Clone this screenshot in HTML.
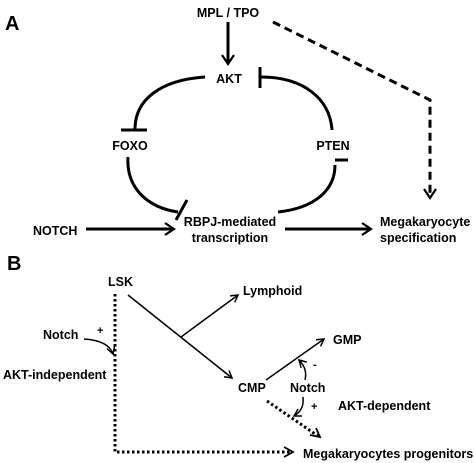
<!DOCTYPE html>
<html><head><style>html,body{margin:0;padding:0;background:#fff}svg{display:block}text{font-family:"Liberation Sans",Arial,sans-serif;font-weight:bold;fill:#000}</style></head>
<body>
<svg width="474" height="463" viewBox="0 0 474 463" xmlns="http://www.w3.org/2000/svg">
<defs>
<marker id="a" markerWidth="14" markerHeight="14" refX="10" refY="7" orient="auto" markerUnits="userSpaceOnUse"><path d="M1,1 L10,7 L1,13" fill="none" stroke="#000" stroke-width="2.2"/></marker>
<marker id="s" markerWidth="10" markerHeight="10" refX="8" refY="5" orient="auto" markerUnits="userSpaceOnUse"><path d="M1,1 L8,5 L1,9" fill="none" stroke="#000" stroke-width="1.5"/></marker>
</defs>
<g font-size="12.5">
<text x="5" y="30" font-size="20">A</text>
<text x="228" y="17" text-anchor="middle">MPL / TPO</text>
<text x="229" y="83" text-anchor="middle">AKT</text>
<text x="130" y="150" text-anchor="middle">FOXO</text>
<text x="333" y="150" text-anchor="middle">PTEN</text>
<text x="33" y="235">NOTCH</text>
<text x="230" y="226" text-anchor="middle">RBPJ-mediated</text>
<text x="230" y="242" text-anchor="middle">transcription</text>
<text x="380" y="226">Megakaryocyte</text>
<text x="380" y="242">specification</text>
</g>
<g fill="none" stroke="#000" stroke-width="3">
<line x1="228" y1="22" x2="228" y2="64" marker-end="url(#a)"/>
<path d="M205,77 C160,80 135,100 135,129"/>
<line x1="121" y1="130" x2="147" y2="130"/>
<path d="M128,157 C126,190 150,208 178,212"/>
<line x1="187" y1="200" x2="176" y2="220"/>
<path d="M278,212 C315,208 335,190 335,165"/>
<line x1="335" y1="160" x2="348" y2="160"/>
<path d="M332,130 C330,100 305,77 261,77"/>
<line x1="260" y1="67" x2="260" y2="88"/>
<line x1="86" y1="229" x2="174" y2="229" marker-end="url(#a)"/>
<line x1="285" y1="229" x2="371" y2="229" marker-end="url(#a)"/>
<path d="M273,22 L430,100 L430,198" stroke-dasharray="8,5" marker-end="url(#a)"/>
</g>
<g font-size="12.5">
<text x="7" y="270" font-size="20">B</text>
<text x="108" y="286">LSK</text>
<text x="243" y="295">Lymphoid</text>
<text x="333" y="344">GMP</text>
<text x="238" y="392">CMP</text>
<text x="290" y="392">Notch</text>
<text x="338" y="410">AKT-dependent</text>
<text x="303" y="458">Megakaryocytes progenitors</text>
<text x="43" y="339">Notch</text>
<text x="3" y="379">AKT-independent</text>
<text x="97" y="334" font-size="11">+</text>
<text x="311" y="410" font-size="11">+</text>
<text x="313" y="368" font-size="11">-</text>
</g>
<g fill="none" stroke="#000" stroke-width="1.5">
<line x1="128" y1="295" x2="232" y2="378" marker-end="url(#s)"/>
<line x1="181" y1="337" x2="238" y2="295" marker-end="url(#s)"/>
<line x1="266" y1="380" x2="324" y2="339" marker-end="url(#s)"/>
<path d="M84,339 C100,340 110,345 113,354" marker-end="url(#s)"/>
<path d="M305,380 C307,372 304,365 299,360" marker-end="url(#s)"/>
<path d="M303,397 C304,406 301,412 294,416" marker-end="url(#s)"/>
</g>
<g fill="none" stroke="#000" stroke-width="3" stroke-dasharray="2.5,2.5">
<path d="M115,294 L115,452 L290,452"/>
<line x1="267" y1="401" x2="318" y2="436"/>
</g>
<path d="M284,447 L293,452 L284,457" fill="none" stroke="#000" stroke-width="1.8"/>
<path d="M310,435 L320,437 L316,428" fill="none" stroke="#000" stroke-width="1.8"/>
</svg>
</body></html>
